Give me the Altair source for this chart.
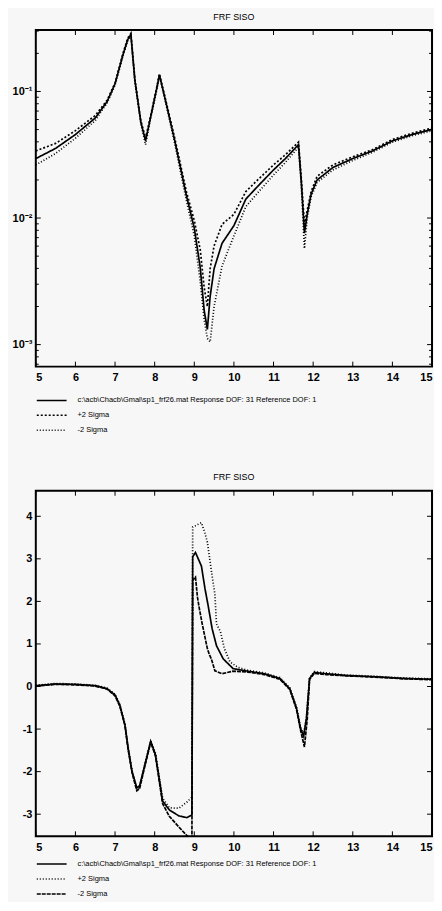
import altair as alt
import pandas as pd

FONT = "Liberation Sans"
MAIN = r"c:\acb\Chacb\Gmal\sp1_frf26.mat    Response DOF: 31    Reference DOF: 1"
SERIES = [MAIN, "+2 Sigma", "-2 Sigma"]
TITLE = "FRF SISO"

# ---------------- top panel: magnitude (log axis) ----------------
mag_x = [5.0, 5.5, 6.0, 6.5, 6.8, 7.0, 7.2, 7.32, 7.40, 7.5, 7.65, 7.77, 7.9, 8.05, 8.12,
         8.25, 8.5, 8.8, 9.0, 9.15, 9.25, 9.33, 9.4, 9.5, 9.7, 10.0, 10.3, 10.6, 11.0, 11.3,
         11.63, 11.7, 11.78, 11.85, 11.95, 12.1, 12.5, 13.0, 13.5, 14.0, 14.5, 15.0]
mag_main = [0.0295, 0.0355, 0.0457, 0.0617, 0.0832, 0.115, 0.195, 0.257, 0.282, 0.123,
            0.0575, 0.0407, 0.0631, 0.105, 0.135, 0.0912, 0.0417, 0.0151, 0.00832, 0.00407,
            0.00186, 0.00132, 0.00240, 0.00398, 0.00631, 0.00871, 0.0141, 0.0178, 0.0240,
            0.0295, 0.0380, 0.0195, 0.00759, 0.0107, 0.0155, 0.0200, 0.0251, 0.0295, 0.0339,
            0.0407, 0.0457, 0.0501]
mag_up = [0.0339, 0.0389, 0.0490, 0.0646, 0.0851, 0.117, 0.200, 0.263, 0.288, 0.126,
          0.0589, 0.0427, 0.0646, 0.107, 0.138, 0.0933, 0.0437, 0.0162, 0.00955, 0.00562,
          0.00282, 0.00200, 0.00398, 0.00603, 0.00891, 0.0107, 0.0162, 0.0200, 0.0263,
          0.0316, 0.0398, 0.0209, 0.00891, 0.0115, 0.0162, 0.0214, 0.0263, 0.0305, 0.0347,
          0.0417, 0.0468, 0.0513]
mag_lo = [0.0263, 0.0324, 0.0427, 0.0589, 0.0813, 0.112, 0.191, 0.251, 0.275, 0.120,
          0.0562, 0.0380, 0.0617, 0.102, 0.132, 0.0891, 0.0398, 0.0138, 0.00724, 0.00316,
          0.00158, 0.00112, 0.00105, 0.00200, 0.00417, 0.00724, 0.0123, 0.0158, 0.0219,
          0.0275, 0.0363, 0.0182, 0.00575, 0.0100, 0.0148, 0.0191, 0.0240, 0.0285, 0.0331,
          0.0398, 0.0447, 0.0490]

# ---------------- bottom panel: real part ----------------
re_x = [5.0, 5.5, 6.0, 6.5, 6.8, 7.0, 7.12, 7.25, 7.33, 7.43, 7.55, 7.62, 7.75, 7.9, 8.02,
        8.12, 8.2, 8.37, 8.61, 8.81, 8.94, 8.96, 9.03, 9.18, 9.27, 9.35, 9.45, 9.56, 9.73, 9.98,
        10.35, 10.77, 11.16, 11.41, 11.58, 11.68, 11.76, 11.83, 11.91, 12.03, 12.33, 12.82,
        13.56, 14.3, 15.0]
re_main = [0.02, 0.06, 0.05, 0.02, -0.05, -0.2, -0.44, -0.9, -1.45, -2.0, -2.38, -2.33,
           -1.85, -1.29, -1.6, -2.2, -2.69, -2.9, -3.04, -3.08, -3.02, 3.05, 3.15, 2.83, 2.3,
           1.9, 1.36, 0.96, 0.65, 0.42, 0.36, 0.30, 0.19, -0.05, -0.51, -0.98, -1.17, -0.75,
           0.19, 0.33, 0.30, 0.26, 0.23, 0.19, 0.17]
re_x_up = [5.0, 5.5, 6.0, 6.5, 6.8, 7.0, 7.12, 7.25, 7.33, 7.43, 7.55, 7.62, 7.75, 7.9, 8.02,
           8.12, 8.2, 8.37, 8.61, 8.81, 8.94, 8.96, 9.03, 9.18, 9.27, 9.33, 9.45, 9.52, 9.56,
           9.66, 9.76, 9.9, 10.1, 10.35, 10.77, 11.16, 11.41, 11.58, 11.68, 11.76, 11.83,
           11.91, 12.03, 12.33, 12.82, 13.56, 14.3, 15.0]
re_up = [0.03, 0.07, 0.06, 0.03, -0.04, -0.18, -0.42, -0.88, -1.42, -1.98, -2.42, -2.38,
         -1.83, -1.27, -1.57, -2.15, -2.62, -2.85, -2.86, -2.72, -2.6, 3.75, 3.78, 3.85, 3.6,
         3.39, 2.6, 2.17, 1.47, 1.29, 0.89, 0.58, 0.45, 0.38, 0.32, 0.21, -0.03, -0.48, -0.95,
         -1.12, -0.72, 0.21, 0.35, 0.32, 0.27, 0.24, 0.20, 0.18]
re_x_lo = [5.0, 5.5, 6.0, 6.5, 6.8, 7.0, 7.12, 7.25, 7.33, 7.43, 7.55, 7.62, 7.75, 7.9, 8.02,
           8.12, 8.2, 8.37, 8.61, 8.81, 8.94, 8.96, 9.03, 9.08, 9.12, 9.2, 9.33, 9.38, 9.43,
           9.52, 9.7, 9.98, 10.35, 10.77, 11.16, 11.41, 11.58, 11.68, 11.78, 11.85, 11.91,
           12.03, 12.33, 12.82, 13.56, 14.3, 15.0]
re_lo = [0.01, 0.05, 0.04, 0.01, -0.06, -0.22, -0.46, -0.92, -1.48, -2.03, -2.45, -2.40,
         -1.88, -1.31, -1.63, -2.25, -2.75, -3.05, -3.30, -3.50, -3.62, 2.5, 2.57, 2.1, 1.87,
         1.47, 0.89, 0.75, 0.65, 0.37, 0.30, 0.36, 0.34, 0.28, 0.17, -0.07, -0.54, -1.02,
         -1.42, -0.78, 0.17, 0.31, 0.28, 0.25, 0.22, 0.18, 0.16]

# ---------------- ticks ----------------
x_ticks = [5, 6, 7, 8, 9, 10, 11, 12, 13, 14, 15]
mag_ticks = [0.1, 0.01, 0.001]
mag_tick_labels = ["10⁻¹", "10⁻²", "10⁻³"]
mag_minor = [0.0007, 0.0008, 0.0009, 0.002, 0.003, 0.004, 0.005, 0.006, 0.007, 0.008, 0.009,
             0.02, 0.03, 0.04, 0.05, 0.06, 0.07, 0.08, 0.09, 0.2, 0.3]
re_ticks = [-3, -2, -1, 0, 1, 2, 3, 4]

W = 399
H_TOP = 339
H_BOT = 348


def long_df(pairs):
    rows = []
    for name, xs, ys in pairs:
        for xv, yv in zip(xs, ys):
            rows.append({"x": xv, "y": yv, "series": name})
    return pd.DataFrame(rows)


def panel(df, y_scale, y_axis, y_major, y_minor, H, dash_range, legend_gap):
    x_scale = alt.Scale(domain=[5, 15], nice=False, zero=False)
    x_axis = alt.Axis(values=x_ticks, title=None, ticks=False, domain=False, grid=False,
                      labelPadding=5, format="d")
    X = alt.X("x:Q", scale=x_scale, axis=x_axis)
    Y = alt.Y("y:Q", scale=y_scale, axis=y_axis)
    line = alt.Chart(df).mark_line(color="black", strokeWidth=1.7, clip=True).encode(
        x=X,
        y=Y,
        detail="series:N",
        strokeDash=alt.StrokeDash(
            "series:N",
            scale=alt.Scale(domain=SERIES, range=dash_range),
            legend=alt.Legend(title=None, orient="none", legendX=10, legendY=H + legend_gap,
                              direction="vertical", symbolType="M-3,0L3,0", symbolSize=100,
                              symbolStrokeWidth=1.5, symbolStrokeColor="black",
                              symbolFillColor="transparent",
                              labelFont=FONT, labelFontSize=7.5, labelLimit=420,
                              labelColor="black",
                              labelOffset=20, rowPadding=5, padding=0),
        ),
    )
    xt = pd.DataFrame({"x": x_ticks})
    ytm = pd.DataFrame({"y": y_major})
    layers = [
        alt.Chart(xt).mark_rule(color="black", strokeWidth=1).encode(
            x=X, y=alt.value(0), y2=alt.value(5)),
        alt.Chart(xt).mark_rule(color="black", strokeWidth=1).encode(
            x=X, y=alt.value(H), y2=alt.value(H - 5)),
        alt.Chart(ytm).mark_rule(color="black", strokeWidth=1).encode(
            y=Y, x=alt.value(0), x2=alt.value(5)),
        alt.Chart(ytm).mark_rule(color="black", strokeWidth=1).encode(
            y=Y, x=alt.value(W), x2=alt.value(W - 5)),
    ]
    if y_minor:
        ytn = pd.DataFrame({"y": y_minor})
        layers += [
            alt.Chart(ytn).mark_rule(color="black", strokeWidth=1).encode(
                y=Y, x=alt.value(0), x2=alt.value(3)),
            alt.Chart(ytn).mark_rule(color="black", strokeWidth=1).encode(
                y=Y, x=alt.value(W), x2=alt.value(W - 3)),
        ]
    return alt.layer(line, *layers).properties(
        width=W, height=H, title=alt.TitleParams(TITLE, anchor="middle"))


top_df = long_df([(MAIN, mag_x, mag_main), ("+2 Sigma", mag_x, mag_up), ("-2 Sigma", mag_x, mag_lo)])
bot_df = long_df([(MAIN, re_x, re_main), ("+2 Sigma", re_x_up, re_up), ("-2 Sigma", re_x_lo, re_lo)])

mag_expr = " : ".join(f"datum.value == {v} ? '{l}'" for v, l in zip(mag_ticks[:-1], mag_tick_labels[:-1]))
mag_expr += f" : '{mag_tick_labels[-1]}'"

top = panel(
    top_df,
    alt.Scale(type="log", domain=[0.00067, 0.306], nice=False),
    alt.Axis(values=mag_ticks, title=None, ticks=False, domain=False, grid=False,
             labelExpr=mag_expr, labelPadding=4, minExtent=27, maxExtent=27),
    mag_ticks, mag_minor, H_TOP,
    [[1, 0], [2, 2], [1, 2]],
    28,
)
bottom = panel(
    bot_df,
    alt.Scale(domain=[-3.52, 4.6], nice=False, zero=False),
    alt.Axis(values=re_ticks, title=None, ticks=False, domain=False, grid=False,
             labelExpr="'' + datum.value", labelPadding=4, minExtent=27, maxExtent=27),
    re_ticks, [], H_BOT,
    [[1, 0], [1, 2], [4, 1]],
    22,
)

chart = alt.vconcat(top, bottom, spacing=37).resolve_scale(
    x="independent", y="independent", strokeDash="independent"
).resolve_legend(
    strokeDash="independent"
).properties(
    background="#f7f7f7",
    padding={"left": 0, "right": 0, "top": 0, "bottom": 0},
).configure_view(
    stroke="black", strokeWidth=2
).configure_axis(
    labelFont=FONT, labelFontSize=11, labelFontWeight="bold", labelColor="black"
).configure_title(
    font=FONT, fontSize=9, fontWeight="normal", color="black", offset=8
)

chart.save("out.html", embed_options={"renderer": "svg", "actions": False})
